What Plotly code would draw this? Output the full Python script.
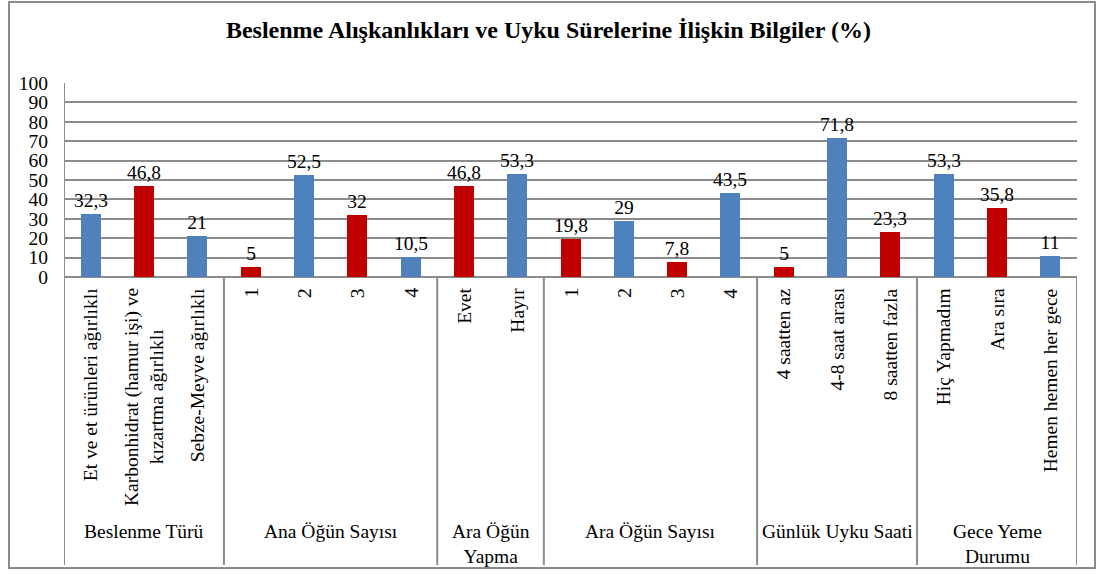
import plotly.graph_objects as go

# ---- data ----
groups = ["Beslenme Türü", "Ana Öğün Sayısı", "Ara Öğün<br>Yapma",
          "Ara Öğün Sayısı", "Günlük Uyku Saati", "Gece Yeme<br>Durumu"]
group_sizes = [3, 4, 2, 4, 3, 3]
categories = ["Et ve et ürünleri ağırlıklı",
              "Karbonhidrat (hamur işi) ve<br>kızartma ağırlıklı",
              "Sebze-Meyve ağırlıklı",
              "1", "2", "3", "4",
              "Evet", "Hayır",
              "1", "2", "3", "4",
              "4 saatten az", "4-8 saat arası", "8 saatten fazla",
              "Hiç Yapmadım", "Ara sıra", "Hemen hemen her gece"]
values = [32.3, 46.8, 21, 5, 52.5, 32, 10.5, 46.8, 53.3, 19.8, 29, 7.8,
          43.5, 5, 71.8, 23.3, 53.3, 35.8, 11]
value_labels = [f"{v:g}".replace(".", ",") for v in values]
y_ticks = list(range(0, 101, 10))

# ---- style ----
BLUE = "#4F81BD"
RED = "#C00000"
GRID = "#8C8C8C"
FONT = "Liberation Serif, Times New Roman, serif"
FS = 19.5

W, H = 1097, 574
ML, MR, MT, MB = 64, 20, 83, 297
PW, PH = W - ML - MR, H - MT - MB


def py(pixel_y):
    """page pixel y -> paper y"""
    return (H - MB - pixel_y) / PH


def px(pixel_x):
    return (pixel_x - ML) / PW


xs = list(range(len(categories)))
colors = [BLUE if i % 2 == 0 else RED for i in xs]

fig = go.Figure()
fig.add_trace(go.Bar(
    x=xs, y=values, width=0.375, marker=dict(color=colors, line=dict(width=0)),
    text=value_labels, textposition="outside", cliponaxis=False,
    constraintext="none",
    textfont=dict(family=FONT, size=FS, color="black"),
    hoverinfo="skip", showlegend=False,
))

annotations = []
shapes = []

# sub-category labels (rotated)
for i, c in enumerate(categories):
    annotations.append(dict(
        x=i, xref="x", y=py(286), yref="paper", text=c, textangle=-90,
        xanchor="center", yanchor="top", align="center", showarrow=False,
        font=dict(family=FONT, size=FS, color="black"),
    ))

# group labels and dividers
start = 0
bounds = [-0.5]
for g, n in zip(groups, group_sizes):
    center = start + (n - 1) / 2
    annotations.append(dict(
        x=center, xref="x", y=py(519), yref="paper", text=g,
        xanchor="center", yanchor="top", align="center", showarrow=False,
        font=dict(family=FONT, size=FS, color="black"),
    ))
    start += n
    bounds.append(start - 0.5)

for b in bounds:
    shapes.append(dict(type="line", xref="x", yref="paper", x0=b, x1=b,
                       y0=0, y1=py(565), line=dict(color=GRID, width=2)))
# left axis line in plot area
shapes.append(dict(type="line", xref="x", yref="paper", x0=-0.5, x1=-0.5,
                   y0=0, y1=1, line=dict(color=GRID, width=2)))
# outer border
shapes.append(dict(type="rect", xref="paper", yref="paper",
                   x0=px(9), x1=px(1095), y0=py(2), y1=py(568),
                   line=dict(color="#8A8A8A", width=2), fillcolor="rgba(0,0,0,0)"))

fig.update_layout(
    width=W, height=H,
    margin=dict(l=ML, r=MR, t=MT, b=MB),
    paper_bgcolor="white", plot_bgcolor="white",
    title=dict(text="<b>Beslenme Alışkanlıkları ve Uyku Sürelerine İlişkin Bilgiler (%)</b>",
               x=0.5, xref="container", xanchor="center",
               y=1 - 30 / H, yref="container", yanchor="middle",
               font=dict(family=FONT, size=24, color="black")),
    xaxis=dict(range=[-0.5, len(categories) - 0.5], showticklabels=False,
               showgrid=False, zeroline=False, showline=False, ticks=""),
    yaxis=dict(range=[0, 100], tickvals=y_ticks, showgrid=True, gridcolor=GRID,
               gridwidth=2, zeroline=True, zerolinecolor=GRID, zerolinewidth=2,
               showline=False, ticks="", ticklabelstandoff=15,
               tickfont=dict(family=FONT, size=FS, color="black")),
    annotations=annotations,
    shapes=shapes,
    bargap=0,
)

fig.write_html("out.html", config={"displayModeBar": False},
               post_script="document.body.style.margin='0';document.body.style.overflow='hidden';")
